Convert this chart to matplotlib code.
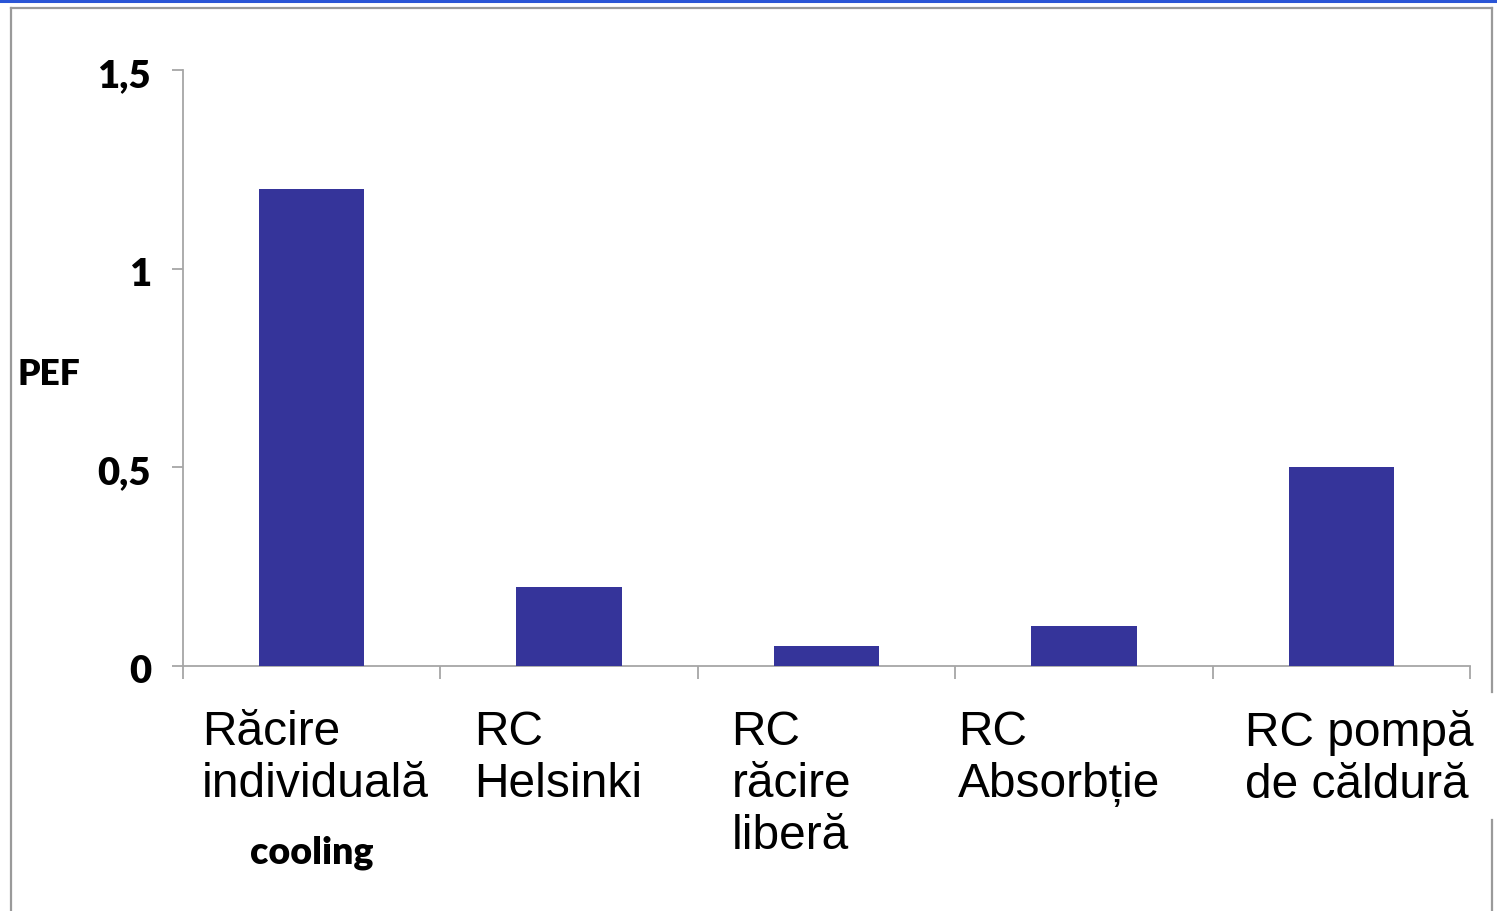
import matplotlib
matplotlib.use("Agg")
import matplotlib.pyplot as plt
import matplotlib.transforms as mtransforms
from matplotlib.lines import Line2D

categories = ["Răcire\nindividuală", "RC\nHelsinki", "RC\nrăcire\nliberă", "RC\nAbsorbție", "RC pompă\nde căldură"]
values = [1.2, 0.2, 0.05, 0.1, 0.5]
yticks = [0, 0.5, 1, 1.5]
ytick_labels = ["0", "0,5", "1", "1,5"]
ylabel = "PEF"
extra_label = "cooling"

# layout (left-edge offsets of category labels, in category units)
label_offsets = [-0.427, -0.369, -0.369, -0.49, -0.373]

W, H = 1497, 911
AX_H = 666 - 70
fig = plt.figure(figsize=(W / 100, H / 100), dpi=100)
ax = fig.add_axes([183 / W, 1 - 666 / H, (1470 - 183) / W, AX_H / H])

bar_color = "#35349A"
axis_color = "#A6A6A6"
x = list(range(len(categories)))
ax.bar(x, values, width=0.41, color=bar_color, zorder=3)

ax.set_xlim(-0.5, len(categories) - 0.5)
ax.set_ylim(0, 1.5)
for s in ["top", "right"]:
    ax.spines[s].set_visible(False)
for s in ["left", "bottom"]:
    ax.spines[s].set_color(axis_color)
    ax.spines[s].set_linewidth(1.3)

ax.set_yticks(yticks)
ax.set_yticklabels(ytick_labels, fontfamily="Lato", fontweight="heavy", fontsize=27.5)
ax.tick_params(axis="y", length=8, width=1.3, color=axis_color, pad=15)
shift = mtransforms.ScaledTranslation(0, -3 / 100, fig.dpi_scale_trans)
for lab in ax.get_yticklabels():
    lab.set_transform(lab.get_transform() + shift)

boundaries = [i - 0.5 for i in range(len(categories) + 1)]
ax.set_xticks(boundaries)
ax.set_xticklabels([])
ax.tick_params(axis="x", length=9, width=1.3, color=axis_color)

for i, (lab, off) in enumerate(zip(categories, label_offsets)):
    ax.text(i + off, -44 / AX_H, lab, transform=ax.get_xaxis_transform(), ha="left", va="top",
            fontfamily="Liberation Sans", fontsize=34.5, linespacing=1.2,
            color="black")

ax.text(0, -(853 - 666) / AX_H, extra_label, transform=ax.get_xaxis_transform(),
        ha="center", va="center", fontfamily="Lato", fontweight="heavy", fontsize=27)

fig.text(17 / W, 1 - 375 / H, ylabel, ha="left", va="center", fontfamily="Lato",
         fontweight="heavy", fontsize=25.5)

# frame lines
def fl(xs, ys, color, lw):
    fig.add_artist(Line2D([v / W for v in xs], [1 - v / H for v in ys],
                          color=color, linewidth=lw, transform=fig.transFigure))

fl([0, W], [1, 1], "#2A55D6", 2.2)
fl([11, 1492], [7.5, 7.5], "#9A9A9A", 1.6)
fl([11, 11], [7.5, 911], "#9A9A9A", 1.6)
fl([1492, 1492], [7.5, 692], "#9A9A9A", 1.6)
fl([1492, 1492], [820, 911], "#9A9A9A", 1.6)

fig.savefig("out.png", dpi=100)
